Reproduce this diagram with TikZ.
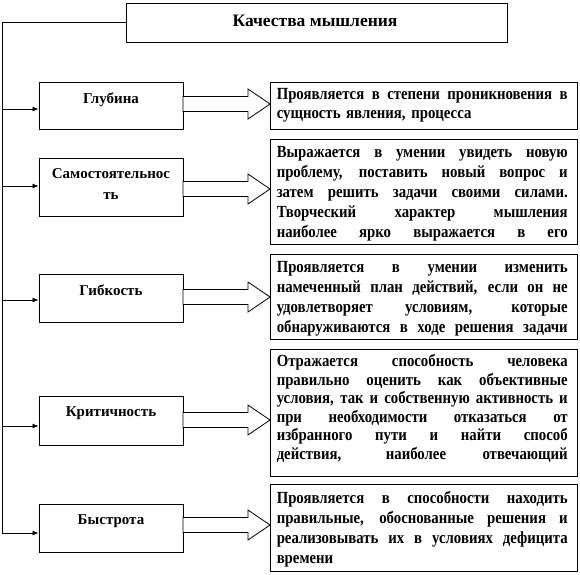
\documentclass[tikz,border=0pt]{standalone}
\usepackage{fontspec}
\setmainfont{Liberation Serif}
\newfontfamily\bodyfont[FakeStretch=0.87]{Liberation Serif}
\usetikzlibrary{arrows.meta}
\newcommand{\jl}[1]{\hbox to \linewidth{\spaceskip=0.25em plus 1fil\xspaceskip=0.25em plus 1fil\relax\strut #1}\par}
\newcommand{\lastl}[1]{\hbox to \linewidth{\strut #1\hfil}\par}
\tikzset{
  frame/.style={draw=black, line width=0.9pt, fill=white, inner sep=0pt},
  lbox/.style={frame, minimum width=144pt},
  rbox/.style={frame, minimum width=307pt},
  ltext/.style={inner sep=0pt, align=center, font=\fontsize{15}{21}\selectfont\bfseries, anchor=north},
  rtext/.style={inner sep=0pt, text width=291pt, anchor=north west, font=\bodyfont\fontsize{17}{20}\selectfont\bfseries},
  feed/.style={line width=0.8pt, -{Latex[length=6pt,width=5pt]}},
  wire/.style={line width=0.9pt},
  blockarrow/.style={draw=black, line width=0.8pt, fill=white}
}
\newcommand{\barrow}[3]{% from x, to x, center y
  \draw[blockarrow] (#1,#3-7.5) -- (#2-22,#3-7.5) -- (#2-22,#3-15) -- (#2,#3) -- (#2-22,#3+15) -- (#2-22,#3+7.5) -- (#1,#3+7.5) -- cycle;}
\begin{document}
\begin{tikzpicture}[x=1pt,y=-1pt]
\useasboundingbox (0,0) rectangle (580,574);
% title
\node[frame, minimum width=381pt, minimum height=39pt] (top) at (316.5,22.5) {};
\node[inner sep=0pt, font=\fontsize{17.5}{20}\selectfont\bfseries] (toptext) at (315,20.5) {Качества мышления};
\coordinate (corner) at (2,22);
\coordinate (bottom) at (2,533);
\draw[wire] (top.west |- corner) -- (corner) -- (bottom);
% left boxes
\node[lbox, minimum height=47pt] (l1) at (111,105.5) {};
\node[lbox, minimum height=58pt] (l2) at (111,187) {};
\node[lbox, minimum height=48pt] (l3) at (111,298) {};
\node[lbox, minimum height=49pt] (l4) at (111,420.5) {};
\node[lbox, minimum height=48pt] (l5) at (111,528) {};
\node[ltext] (l1t) at ([yshift=-11pt]l1.north) {Глубина};
\node[ltext] (l2t) at ([yshift=-11pt]l2.north) {Самостоятельнос\\ть};
\node[ltext] (l3t) at ([yshift=-11pt]l3.north) {Гибкость};
\node[ltext] (l4t) at ([yshift=-11pt]l4.north) {Критичность};
\node[ltext] (l5t) at ([yshift=-11pt]l5.north) {Быстрота};
% feeders
\coordinate (f1) at (2,109);
\coordinate (f2) at (2,186);
\coordinate (f3) at (2,300);
\coordinate (f4) at (2,426);
\coordinate (f5) at (2,533);
\foreach \n in {1,...,5} {\draw[feed] (f\n) -- (f\n -| l\n.west);}
% right boxes
\node[rbox, minimum height=47pt] (r1) at (423.5,105.5) {};
\node[rbox, minimum height=105pt] (r2) at (423.5,191.5) {};
\node[rbox, minimum height=85pt] (r3) at (423.5,296.5) {};
\node[rbox, minimum height=127pt] (r4) at (423.5,412.5) {};
\node[rbox, minimum height=87pt] (r5) at (423.5,527.5) {};
\node[rtext, font=\bodyfont\fontsize{17}{18.5}\selectfont\bfseries] (r1t) at ([xshift=7pt,yshift=-5pt]r1.north west) {%
\jl{Проявляется в степени проникновения в}
\lastl{сущность явления, процесса}};
\node[rtext] (r2t) at ([xshift=7pt,yshift=-5pt]r2.north west) {%
\jl{Выражается в умении увидеть новую}
\jl{проблему, поставить новый вопрос и}
\jl{затем решить задачи своими силами.}
\jl{Творческий характер мышления}
\jl{наиболее ярко выражается в его}};
\node[rtext] (r3t) at ([xshift=7pt,yshift=-5pt]r3.north west) {%
\jl{Проявляется в умении изменить}
\jl{намеченный план действий, если он не}
\jl{удовлетворяет условиям, которые}
\jl{обнаруживаются в ходе решения задачи}};
\node[rtext, font=\bodyfont\fontsize{17}{18.5}\selectfont\bfseries] (r4t) at ([xshift=7pt,yshift=-5pt]r4.north west) {%
\jl{Отражается способность человека}
\jl{правильно оценить как объективные}
\jl{условия, так и собственную активность и}
\jl{при необходимости отказаться от}
\jl{избранного пути и найти способ}
\jl{действия, наиболее отвечающий}};
\node[rtext] (r5t) at ([xshift=7pt,yshift=-6pt]r5.north west) {%
\jl{Проявляется в способности находить}
\jl{правильные, обоснованные решения и}
\jl{реализовывать их в условиях дефицита}
\lastl{времени}};
% block arrows
\barrow{183}{270}{104}
\barrow{183}{270}{189}
\barrow{183}{270}{297}
\barrow{183}{270}{420}
\barrow{183}{270}{525}
\end{tikzpicture}
\end{document}
